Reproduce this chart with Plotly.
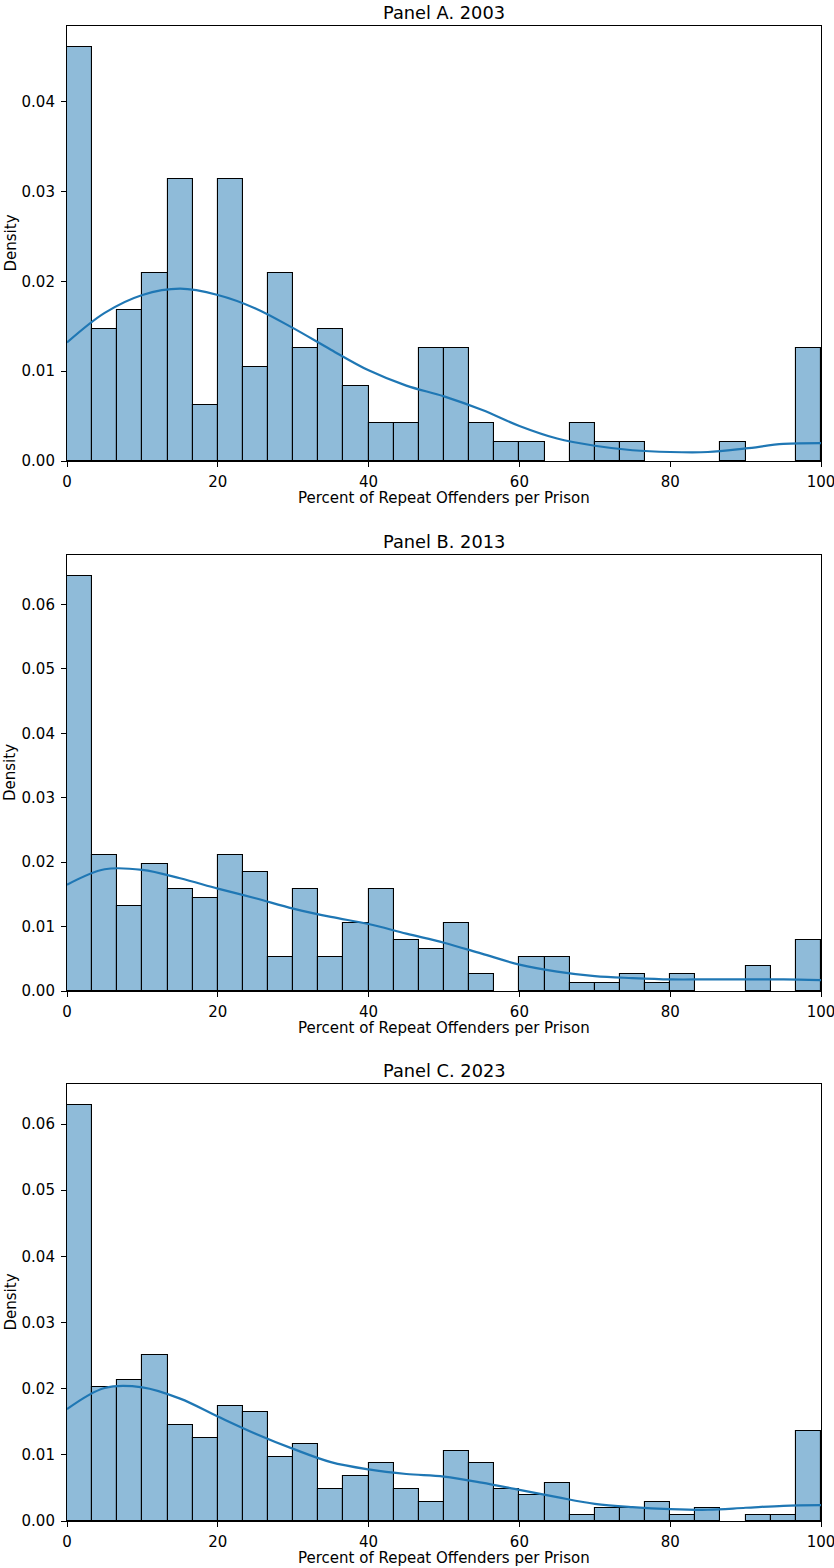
import plotly.graph_objects as go

# ---------------- data ----------------
bin_edges_start = 0.0
bin_edges_end = 100.0
n_bins = 30

counts_2003 = [22, 7, 8, 10, 15, 3, 15, 5, 10, 6, 7, 4, 2, 2, 6,
               6, 2, 1, 1, 0, 2, 1, 1, 0, 0, 0, 1, 0, 0, 6]
counts_2013 = [49, 16, 10, 15, 12, 11, 16, 14, 4, 12, 4, 8, 12, 6, 5,
               8, 2, 0, 4, 4, 1, 1, 2, 1, 2, 0, 0, 3, 0, 6]
counts_2023 = [65, 21, 22, 26, 15, 13, 18, 17, 10, 12, 5, 7, 9, 5, 3,
               11, 9, 5, 4, 6, 1, 2, 2, 3, 1, 2, 0, 1, 1, 14]

kde_x = [0, 5, 10, 15, 20, 25, 30, 35, 40, 45, 50, 55, 60, 65, 70, 75, 80, 85, 90, 95, 100]
kde_2003 = [0.0132, 0.0165, 0.0185, 0.0192, 0.0185, 0.0170, 0.0148, 0.0124, 0.0101, 0.0084,
            0.0072, 0.0057, 0.0039, 0.0025, 0.0017, 0.0012, 0.0010, 0.0010, 0.0014, 0.0019, 0.0020]
kde_2013 = [0.0165, 0.0189, 0.0188, 0.0175, 0.0159, 0.0144, 0.0128, 0.0115, 0.0104, 0.0089,
            0.0075, 0.0058, 0.0041, 0.0030, 0.0023, 0.0020, 0.0018, 0.0018, 0.0018, 0.0018, 0.0017]
kde_2023 = [0.0169, 0.0201, 0.0202, 0.0185, 0.0158, 0.0132, 0.0109, 0.0089, 0.0078, 0.0071,
            0.0067, 0.0058, 0.0047, 0.0036, 0.0026, 0.0021, 0.0018, 0.0017, 0.0020, 0.0023, 0.0024]

panel_titles = ["Panel A. 2003", "Panel B. 2013", "Panel C. 2023"]
x_label = "Percent of Repeat Offenders per Prison"
y_label = "Density"
x_ticks = [0, 20, 40, 60, 80, 100]

# ---------------- styling / layout ----------------
W, H = 834, 1568
FONT = "DejaVu Sans"
BAR_FILL = "rgba(31,119,180,0.5)"
LINE_COLOR = "#1f77b4"
TICK_SIZE = 15
TITLE_SIZE = 17.8

# pixel boxes of the three axes (left, right, top, bottom)
px_left, px_right = 67, 821
boxes = [(26, 461), (555, 991), (1084, 1521)]

bw = (bin_edges_end - bin_edges_start) / n_bins
lefts = [bin_edges_start + i * bw for i in range(n_bins)]

fig = go.Figure()
annotations = []

all_counts = [counts_2003, counts_2013, counts_2023]
all_kde = [kde_2003, kde_2013, kde_2023]

for i, (counts, kde, title, (top, bot)) in enumerate(zip(all_counts, all_kde, panel_titles, boxes)):
    n = sum(counts)
    dens = [c / (n * bw) if c > 0 else None for c in counts]
    ax = "" if i == 0 else str(i + 1)
    fig.add_trace(go.Bar(
        x=lefts, y=dens, width=[bw] * n_bins, offset=0,
        marker=dict(color=BAR_FILL, line=dict(color="black", width=1.1)),
        xaxis="x" + ax, yaxis="y" + ax, showlegend=False, hoverinfo="skip",
    ))
    fig.add_trace(go.Scatter(
        x=kde_x, y=kde, mode="lines",
        line=dict(color=LINE_COLOR, width=2.2, shape="spline", smoothing=1.0),
        xaxis="x" + ax, yaxis="y" + ax, showlegend=False, hoverinfo="skip",
    ))
    ymax = max(c for c in counts) / (n * bw) * 1.05
    ydom = [(H - bot) / H, (H - top) / H]
    common = dict(showline=True, linecolor="black", linewidth=1.1, mirror=True,
                  ticks="outside", ticklen=5, tickwidth=1.1, tickcolor="black",
                  showgrid=False, zeroline=False, ticklabeloverflow="allow",
                  automargin=False,
                  tickfont=dict(family=FONT, size=TICK_SIZE, color="black"))
    fig.update_layout(**{
        "xaxis" + ax: dict(domain=[px_left / W, px_right / W], range=[0, 100.0001],
                           tickvals=x_ticks, ticktext=[str(t) for t in x_ticks],
                           anchor="y" + ax, ticklabelstandoff=2, **common),
        "yaxis" + ax: dict(domain=ydom, range=[0, ymax], dtick=0.01, tickformat=".2f",
                           anchor="x" + ax, ticklabelstandoff=3, **common),
    })
    annotations.append(dict(text=title, x=(px_left + px_right) / 2 / W, y=(H - (top - 14)) / H,
                            xref="paper", yref="paper", showarrow=False,
                            xanchor="center", yanchor="middle",
                            font=dict(family=FONT, size=TITLE_SIZE, color="black")))
    annotations.append(dict(text=x_label, x=(px_left + px_right) / 2 / W, y=(H - (bot + 37)) / H,
                            xref="paper", yref="paper", showarrow=False,
                            xanchor="center", yanchor="middle",
                            font=dict(family=FONT, size=TICK_SIZE, color="black")))
    annotations.append(dict(text=y_label, x=10 / W, y=(H - (top + bot) / 2) / H,
                            xref="paper", yref="paper", showarrow=False, textangle=-90,
                            xanchor="center", yanchor="middle",
                            font=dict(family=FONT, size=TICK_SIZE, color="black")))

fig.update_layout(
    width=W, height=H, margin=dict(l=0, r=0, t=0, b=0, autoexpand=False),
    paper_bgcolor="white", plot_bgcolor="white",
    bargap=0, barmode="overlay", annotations=annotations,
    font=dict(family=FONT, color="black"),
)

fig.write_html("out.html")
